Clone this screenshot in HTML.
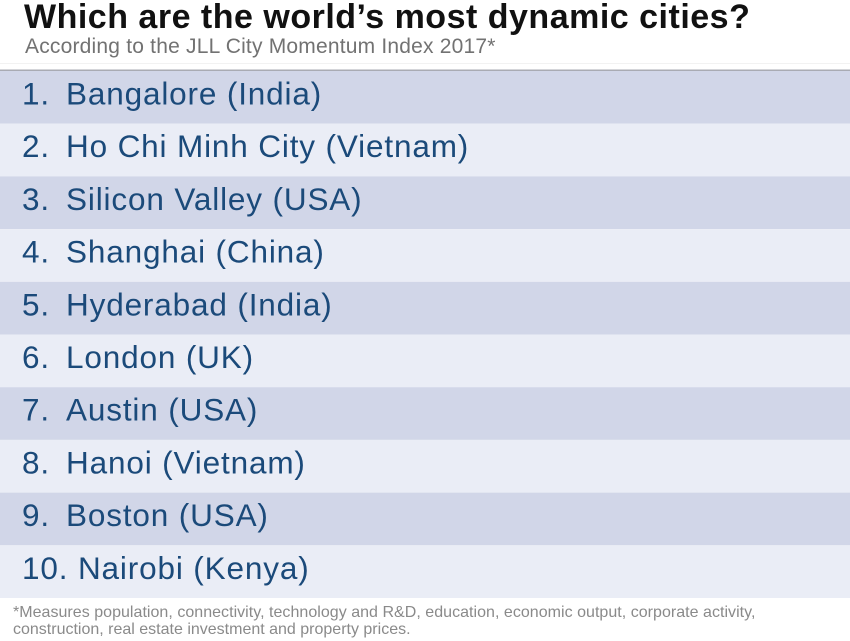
<!DOCTYPE html>
<html>
<head>
<meta charset="utf-8">
<style>
  html,body{margin:0;padding:0;background:#ffffff;}
  body{width:850px;height:641px;overflow:hidden;}
  svg{display:block;}
  .t{font-family:"Liberation Sans",Arial,sans-serif;}
</style>
</head>
<body>
<svg width="850" height="641" viewBox="0 0 850 641" xmlns="http://www.w3.org/2000/svg">
  <rect x="0" y="0" width="850" height="641" fill="#ffffff"/>
  <rect x="0" y="63" width="850" height="1" fill="#f2f2f2"/>
  <text class="t" x="24" y="28" font-size="34" font-weight="bold" fill="#111111" letter-spacing="0.5">Which are the world’s most dynamic cities?</text>
  <text class="t" x="25" y="53" font-size="21" fill="#727272" letter-spacing="0.2">According to the JLL City Momentum Index 2017*</text>

  <rect x="0" y="69.5" width="850" height="1.5" fill="#a9abb3"/>

  <rect x="0" y="71" width="850" height="52.7" fill="#d1d6e8"/>
  <rect x="0" y="123.7" width="850" height="52.7" fill="#eaedf6"/>
  <rect x="0" y="176.4" width="850" height="52.7" fill="#d1d6e8"/>
  <rect x="0" y="229.1" width="850" height="52.7" fill="#eaedf6"/>
  <rect x="0" y="281.8" width="850" height="52.7" fill="#d1d6e8"/>
  <rect x="0" y="334.5" width="850" height="52.7" fill="#eaedf6"/>
  <rect x="0" y="387.2" width="850" height="52.7" fill="#d1d6e8"/>
  <rect x="0" y="439.9" width="850" height="52.7" fill="#eaedf6"/>
  <rect x="0" y="492.6" width="850" height="52.7" fill="#d1d6e8"/>
  <rect x="0" y="545.3" width="850" height="52.7" fill="#eaedf6"/>

  <g class="t" font-size="31.5" fill="#1b4a7a" letter-spacing="0.85">
    <text x="22" y="104.5">1.</text><text x="66" y="104.5">Bangalore (India)</text>
    <text x="22" y="157.2">2.</text><text x="66" y="157.2">Ho Chi Minh City (Vietnam)</text>
    <text x="22" y="209.9">3.</text><text x="66" y="209.9">Silicon Valley (USA)</text>
    <text x="22" y="262.6">4.</text><text x="66" y="262.6">Shanghai (China)</text>
    <text x="22" y="315.3">5.</text><text x="66" y="315.3">Hyderabad (India)</text>
    <text x="22" y="368">6.</text><text x="66" y="368">London (UK)</text>
    <text x="22" y="420.7">7.</text><text x="66" y="420.7">Austin (USA)</text>
    <text x="22" y="473.4">8.</text><text x="66" y="473.4">Hanoi (Vietnam)</text>
    <text x="22" y="526.1">9.</text><text x="66" y="526.1">Boston (USA)</text>
    <text x="22" y="578.8">10. Nairobi (Kenya)</text>
  </g>

  <g class="t" font-size="16" fill="#8a8a8a">
    <text x="13" y="617" letter-spacing="0.03">*Measures population, connectivity, technology and R&amp;D, education, economic output, corporate activity,</text>
    <text x="13" y="634">construction, real estate investment and property prices.</text>
  </g>
</svg>
</body>
</html>
